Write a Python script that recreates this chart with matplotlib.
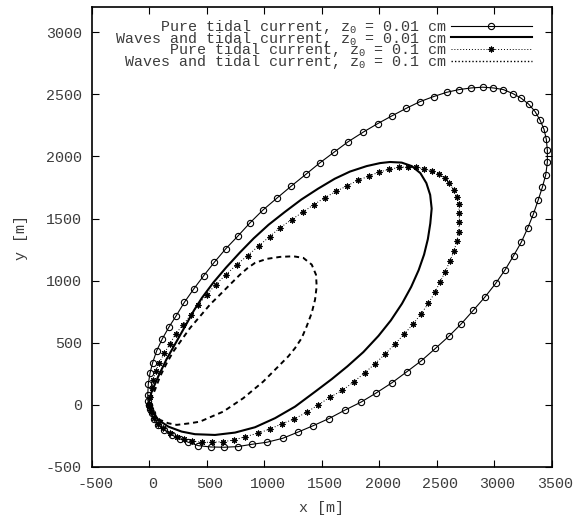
import matplotlib
matplotlib.use('Agg')
import matplotlib.pyplot as plt
import matplotlib.transforms as mtransforms
from matplotlib.lines import Line2D

matplotlib.rcParams['font.family'] = ['Liberation Mono', 'DejaVu Sans Mono']
matplotlib.rcParams['mathtext.fontset'] = 'custom'
matplotlib.rcParams['mathtext.rm'] = 'Liberation Mono'
matplotlib.rcParams['mathtext.it'] = 'Liberation Mono'
matplotlib.rcParams['axes.unicode_minus'] = False

TXT = '#3c3c3c'

# pure tidal current, z0 = 0.01 cm (circles)
circ_x = [0, -10, -11, -6, 9, 32, 67, 116, 174, 237, 307, 389, 476, 568, 667, 771, 878,
          989, 1116, 1237, 1363, 1487, 1611, 1733, 1864, 1989, 2116, 2237, 2357, 2476,
          2589, 2698, 2803, 2902, 2994, 3081, 3163, 3237, 3302, 3357, 3400, 3435, 3455,
          3464, 3464, 3450, 3420, 3383, 3342, 3293, 3237, 3171, 3098, 3015, 2922, 2820,
          2716, 2606, 2490, 2368, 2241, 2111, 1974, 1843, 1704, 1565, 1429, 1293, 1163,
          1024, 896, 771, 655, 539, 429, 342, 270, 197, 133, 81, 46, 23, 5, 0]
circ_y = [0, 35, 81, 169, 256, 341, 436, 532, 627, 718, 825, 933, 1040, 1148, 1256, 1357,
          1465, 1567, 1667, 1761, 1855, 1949, 2035, 2119, 2196, 2264, 2328, 2387, 2441,
          2482, 2516, 2538, 2551, 2557, 2551, 2538, 2506, 2468, 2420, 2361, 2293, 2218,
          2137, 2049, 1954, 1852, 1750, 1645, 1535, 1423, 1309, 1202, 1089, 978, 869, 761,
          653, 551, 454, 355, 266, 177, 95, 22, -42, -110, -167, -220, -269, -301, -317,
          -336, -341, -339, -328, -301, -274, -242, -202, -161, -113, -67, -30, 0]

# waves and tidal current, z0 = 0.01 cm (solid)
sol_x = [0, 3, 25, 80, 150, 232, 330, 392, 460, 560, 670, 790, 910, 1040, 1180, 1325,
         1470, 1615, 1748, 1893, 2009, 2096, 2197, 2285, 2360, 2412, 2445, 2458, 2446,
         2425, 2392, 2345, 2280, 2200, 2103, 1995, 1864, 1725, 1590, 1450, 1270, 1096,
         922, 748, 574, 400, 284, 168, 81, 37, 12, 0]
sol_y = [5, 45, 110, 228, 363, 498, 659, 762, 861, 985, 1105, 1226, 1340, 1450, 1552,
         1653, 1740, 1820, 1878, 1922, 1946, 1955, 1950, 1922, 1865, 1785, 1690, 1580,
         1460, 1335, 1210, 1085, 950, 815, 680, 555, 425, 310, 208, 110, -14, -107, -180,
         -223, -242, -236, -215, -175, -121, -60, -25, 5]

# pure tidal current, z0 = 0.1 cm (stars)
star_x = [0, 8, 23, 37, 58, 87, 133, 183, 232, 298, 363, 429, 502, 580, 667, 763, 858, 957,
          1048, 1139, 1241, 1337, 1432, 1528, 1626, 1724, 1820, 1913, 2000, 2087, 2171,
          2252, 2324, 2394, 2458, 2519, 2571, 2611, 2650, 2676, 2693, 2698, 2698, 2693,
          2678, 2652, 2617, 2577, 2531, 2487, 2429, 2365, 2296, 2220, 2139, 2055, 1965,
          1876, 1780, 1680, 1574, 1472, 1371, 1264, 1154, 1052, 950, 835, 742, 646, 550,
          458, 371, 307, 241, 183, 124, 80, 45, 20, 5, 0]
star_y = [0, 65, 135, 202, 269, 336, 417, 492, 573, 645, 726, 807, 887, 968, 1046, 1129,
          1202, 1282, 1354, 1425, 1492, 1551, 1611, 1667, 1718, 1764, 1809, 1841, 1874,
          1895, 1911, 1917, 1911, 1901, 1882, 1857, 1825, 1782, 1732, 1675, 1613, 1546,
          1474, 1393, 1317, 1240, 1159, 1073, 990, 906, 817, 731, 651, 570, 490, 411, 331,
          258, 185, 116, 62, 0, -59, -113, -153, -194, -228, -256, -282, -296, -301, -301,
          -290, -277, -256, -228, -188, -150, -105, -60, -22, 0]

# waves and tidal current, z0 = 0.1 cm (dashed)
dash_x = [12, 52, 96, 154, 212, 284, 357, 443, 530, 617, 704, 791, 856, 922, 1023, 1139,
          1255, 1342, 1415, 1452, 1458, 1444, 1415, 1371, 1328, 1270, 1211, 1139, 1067,
          994, 907, 820, 733, 646, 545, 443, 357, 241, 168, 96, 37, 10, 12]
dash_y = [40, 121, 228, 336, 430, 524, 619, 712, 807, 887, 968, 1048, 1100, 1143, 1175,
          1191, 1196, 1183, 1129, 1048, 954, 847, 740, 632, 538, 457, 390, 323, 256, 188,
          121, 54, 0, -54, -94, -135, -148, -161, -148, -121, -67, -20, 40]

labels = ['Pure tidal current, z$_\\mathrm{0}$ = 0.01 cm',
          'Waves and tidal current, z$_\\mathrm{0}$ = 0.01 cm',
          'Pure tidal current, z$_\\mathrm{0}$ = 0.1 cm',
          'Waves and tidal current, z$_\\mathrm{0}$ = 0.1 cm']

fig = plt.figure(figsize=(5.77, 5.23), dpi=100)
ax = fig.add_axes([91.5 / 577, 56 / 523, 460 / 577, 459.7 / 523])

l1, = ax.plot(circ_x, circ_y, color='black', lw=0.8, marker='o', ms=4.5, mfc='none',
              mew=0.8)
l2, = ax.plot(sol_x, sol_y, color='black', lw=1.5)
l3, = ax.plot(star_x, star_y, color='black', lw=0.7, dashes=(1, 2), marker=(8, 2, 0),
              ms=4.2, mew=0.8)
l4, = ax.plot(dash_x, dash_y, color='black', lw=1.4, dashes=(2.6, 2.0))

p4 = Line2D([], [], color='black', lw=1.0, dashes=(1, 1.5))
ax.legend([l1, l2, l3, p4], labels, loc='upper right',
          bbox_to_anchor=(0.9576, 0.9767), borderaxespad=0, borderpad=0,
          frameon=False, markerfirst=False, numpoints=1, handlelength=5.4,
          handletextpad=0.25, labelspacing=-0.42, fontsize=10.8, labelcolor=TXT)

ax.set_xlim(-500, 3500)
ax.set_ylim(-500, 3200)
ax.set_xticks(range(-500, 3501, 500))
ax.set_yticks(range(-500, 3001, 500))
ax.tick_params(direction='in', length=5, width=0.8, top=True, right=True,
               labelsize=10.8, labelcolor=TXT, pad=7)
for sp in ax.spines.values():
    sp.set_linewidth(1.2)

off = mtransforms.ScaledTranslation(3.5 / 100, 0, fig.dpi_scale_trans)
for lab in ax.get_xticklabels():
    lab.set_transform(lab.get_transform() + off)

fig.text(321.5 / 577, 1 - 508 / 523, 'x [m]', ha='center', va='center',
         fontsize=10.8, color=TXT)
fig.text(21 / 577, 1 - 237 / 523, 'y [m]', ha='center', va='center', rotation=90,
         fontsize=10.8, color=TXT)

fig.savefig('out.png', dpi=100)
